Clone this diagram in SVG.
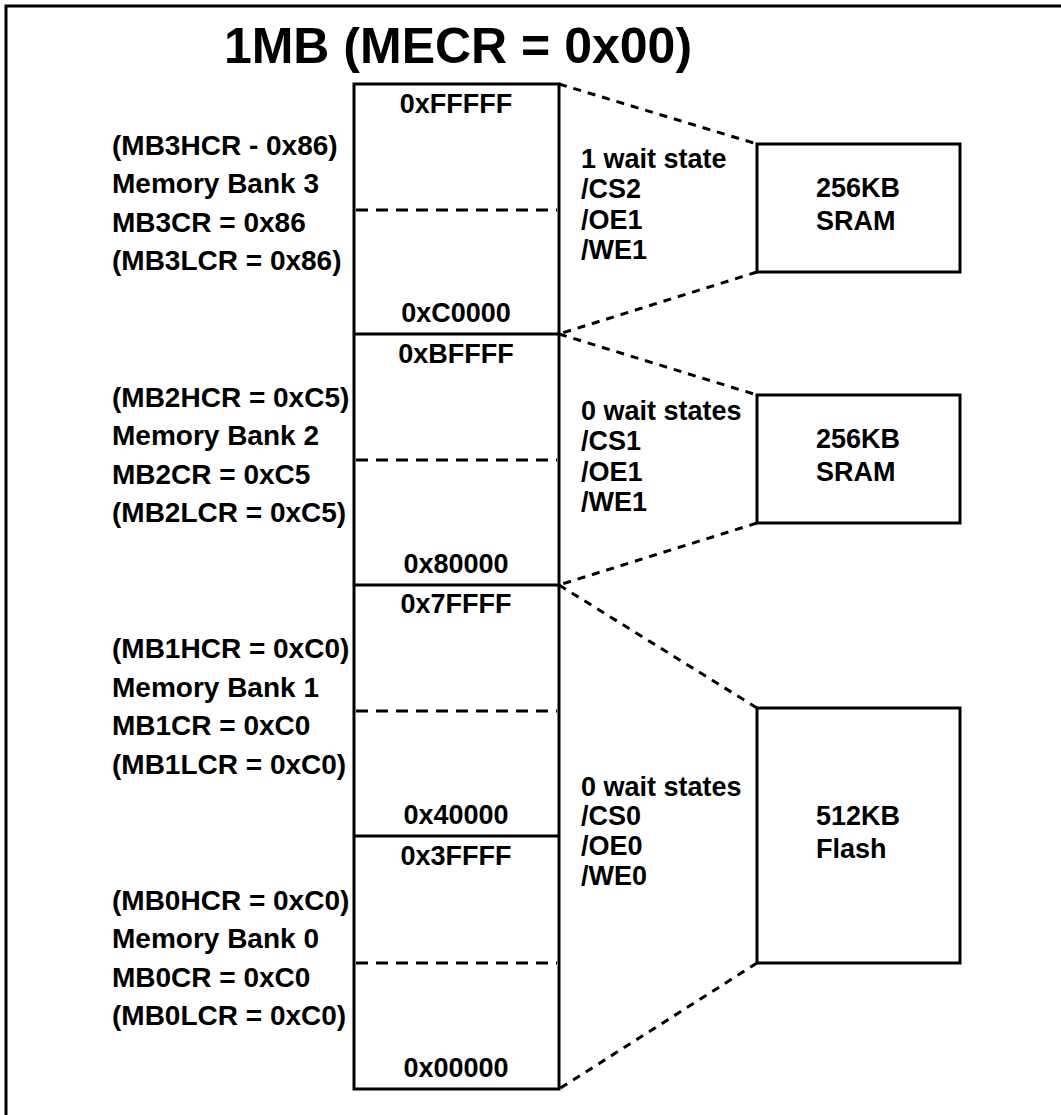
<svg xmlns="http://www.w3.org/2000/svg" width="1061" height="1115" viewBox="0 0 1061 1115">
<style>
.t{font-family:"Liberation Sans",Arial,sans-serif;font-weight:bold;font-size:27px;fill:#000}
.l{font-size:28px}
.m{text-anchor:middle}
.title{font-family:"Liberation Sans",Arial,sans-serif;font-weight:bold;font-size:50px;fill:#000;text-anchor:middle}
.box{fill:#fff;stroke:#000;stroke-width:3}
.solid{stroke:#000;stroke-width:3;fill:none}
.div{stroke:#000;stroke-width:3;stroke-dasharray:12 8;fill:none}
.conn{stroke:#000;stroke-width:3;stroke-dasharray:8 7;fill:none}
</style>
<rect x="0" y="0" width="1061" height="1115" fill="#fff"/>
<rect id="frame" x="6" y="6" width="1100" height="1200" fill="none" stroke="#000" stroke-width="3"/>
<g id="title"><text class="title" x="458" y="63">1MB (MECR = 0x00)</text></g>

<g id="memory-map">
<rect class="box" x="354" y="84" width="205" height="1005"/>
<line class="solid" x1="354" y1="334" x2="559" y2="334"/>
<line class="solid" x1="354" y1="585" x2="559" y2="585"/>
<line class="solid" x1="354" y1="836" x2="559" y2="836"/>
<line class="div" x1="356" y1="210" x2="557" y2="210"/>
<line class="div" x1="356" y1="460" x2="557" y2="460"/>
<line class="div" x1="356" y1="711" x2="557" y2="711"/>
<line class="div" x1="356" y1="963" x2="557" y2="963"/>
<text class="t m" x="456" y="113">0xFFFFF</text>
<text class="t m" x="456" y="322">0xC0000</text>
<text class="t m" x="456" y="363">0xBFFFF</text>
<text class="t m" x="456" y="573">0x80000</text>
<text class="t m" x="456" y="613">0x7FFFF</text>
<text class="t m" x="456" y="824">0x40000</text>
<text class="t m" x="456" y="865">0x3FFFF</text>
<text class="t m" x="456" y="1077">0x00000</text>
</g>

<g id="bank3-labels">
<text class="t l" x="112" y="155">(MB3HCR - 0x86)</text>
<text class="t l" x="112" y="193">Memory Bank 3</text>
<text class="t l" x="112" y="232">MB3CR = 0x86</text>
<text class="t l" x="112" y="270">(MB3LCR = 0x86)</text>
</g>
<g id="bank2-labels">
<text class="t l" x="112" y="407">(MB2HCR = 0xC5)</text>
<text class="t l" x="112" y="445">Memory Bank 2</text>
<text class="t l" x="112" y="484">MB2CR = 0xC5</text>
<text class="t l" x="112" y="522">(MB2LCR = 0xC5)</text>
</g>
<g id="bank1-labels">
<text class="t l" x="112" y="658">(MB1HCR = 0xC0)</text>
<text class="t l" x="112" y="697">Memory Bank 1</text>
<text class="t l" x="112" y="735">MB1CR = 0xC0</text>
<text class="t l" x="112" y="774">(MB1LCR = 0xC0)</text>
</g>
<g id="bank0-labels">
<text class="t l" x="112" y="910">(MB0HCR = 0xC0)</text>
<text class="t l" x="112" y="948">Memory Bank 0</text>
<text class="t l" x="112" y="987">MB0CR = 0xC0</text>
<text class="t l" x="112" y="1025">(MB0LCR = 0xC0)</text>
</g>

<g id="cs2-signals">
<text class="t" x="581" y="168">1 wait state</text>
<text class="t" x="581" y="198">/CS2</text>
<text class="t" x="581" y="229">/OE1</text>
<text class="t" x="581" y="259">/WE1</text>
</g>
<g id="cs1-signals">
<text class="t" x="581" y="420">0 wait states</text>
<text class="t" x="581" y="450">/CS1</text>
<text class="t" x="581" y="481">/OE1</text>
<text class="t" x="581" y="511">/WE1</text>
</g>
<g id="cs0-signals">
<text class="t" x="581" y="796">0 wait states</text>
<text class="t" x="581" y="825">/CS0</text>
<text class="t" x="581" y="855">/OE0</text>
<text class="t" x="581" y="885">/WE0</text>
</g>

<g id="sram-cs2">
<rect class="box" x="757" y="144" width="203" height="128"/>
<text class="t" x="816" y="197">256KB</text>
<text class="t" x="816" y="230">SRAM</text>
</g>
<g id="sram-cs1">
<rect class="box" x="757" y="395" width="203" height="128"/>
<text class="t" x="816" y="448">256KB</text>
<text class="t" x="816" y="481">SRAM</text>
</g>
<g id="flash-cs0">
<rect class="box" x="757" y="708" width="203" height="255"/>
<text class="t" x="816" y="825">512KB</text>
<text class="t" x="816" y="858">Flash</text>
</g>

<g id="connectors">
<line class="conn" x1="559" y1="84" x2="757" y2="144"/>
<line class="conn" x1="757" y1="272" x2="559" y2="334"/>
<line class="conn" x1="559" y1="334" x2="757" y2="395"/>
<line class="conn" x1="757" y1="523" x2="559" y2="585"/>
<line class="conn" x1="559" y1="585" x2="757" y2="708"/>
<line class="conn" x1="757" y1="963" x2="559" y2="1089"/>
</g>
</svg>
